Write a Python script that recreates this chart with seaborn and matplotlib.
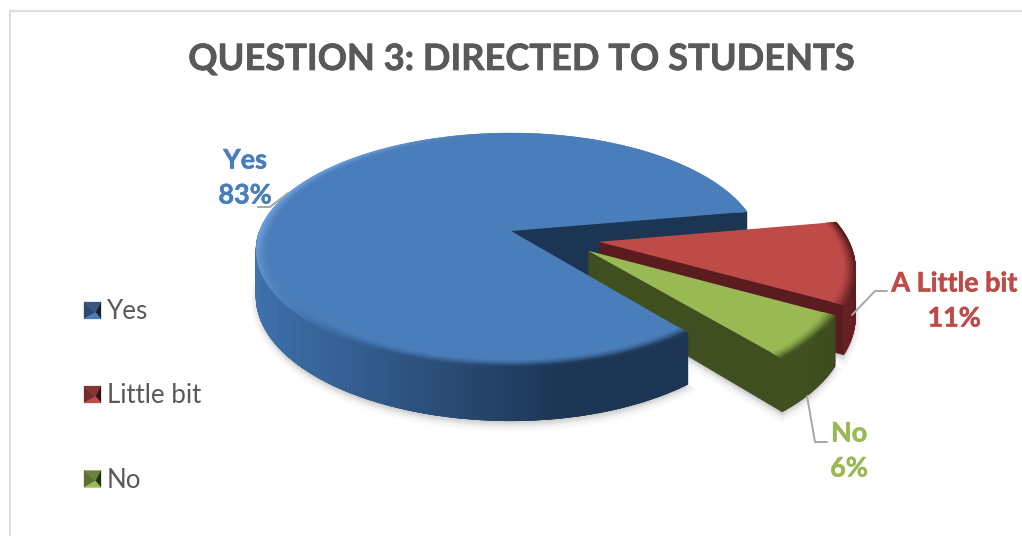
import numpy as np
import matplotlib
matplotlib.use('Agg')
import matplotlib.pyplot as plt
import matplotlib.colors as mcolors
import matplotlib.patheffects as pe
import matplotlib.transforms as mtransforms
from matplotlib.collections import PolyCollection
from matplotlib.patches import PathPatch, Polygon, Wedge
import seaborn as sns

# Chart values
categories = ['Yes', 'Little bit', 'No']
values = [83, 11, 6]
label_names = ['Yes', 'A Little bit', 'No']
title = 'QUESTION 3: DIRECTED TO STUDENTS'

sns.set_theme(style='white')
plt.rcParams['font.family'] = ['Lato', 'DejaVu Sans']

palette = sns.color_palette(['#4a7ebb', '#be4b48', '#98b954'])
inner_wall = ['#1c3553', '#5a1c1e', '#3f4f20']
wall_light = ['#3f72ae', '#6a2224', '#41521f']
wall_dark = ['#1d3655', '#4e1a1b', '#3d4b1e']
text_grey = '#595959'
line_grey = '#a6a6a6'

# Camera used for the tilted pie, in reference pixels
CX, CY = 511, 231
RX, RY = 251.5, 113.9
RIGHT_SQUEEZE = 0.98
K = 0.1625
DEPTH = 45
# how far the two small slices are pulled out of the pie
pulled = {1: (0.351, -0.0937), 2: (0.304, -0.168)}


class Tilt(mtransforms.Transform):
    input_dims = 2
    output_dims = 2

    def __init__(self, drop=0):
        super().__init__()
        self.drop = drop

    def transform_non_affine(self, xy):
        xy = np.asarray(xy, dtype=float)
        w = 1 + K * xy[:, 1]
        rx = np.where(xy[:, 0] > 0, RX * RIGHT_SQUEEZE, RX)
        return np.column_stack([CX + rx * xy[:, 0] / w,
                                CY - RY * xy[:, 1] / w + self.drop / w])


def mix(a, b, t):
    a, b = np.array(mcolors.to_rgb(a)), np.array(mcolors.to_rgb(b))
    return tuple(a + (b - a) * t)


def rim_point(wedge, theta, r=1.0, drop=0):
    cx, cy = wedge.center
    rad = np.radians(theta)
    pts = np.column_stack([cx + r * np.cos(rad), cy + r * np.sin(rad)])
    return Tilt(drop).transform_non_affine(pts)


def wall_colour(i, x, frac):
    t = np.clip((x - 256) / 300, 0, 1) if i == 0 else frac
    return mix(wall_light[i], wall_dark[i], t)


def draw_stack(wedge, i, zorder):
    # extruded copies give the cut faces of the slice
    for d in np.arange(DEPTH, 0, -1.0):
        ax.add_patch(PathPatch(wedge.get_path(), facecolor=inner_wall[i], edgecolor=inner_wall[i],
                               lw=0.5, transform=Tilt(d) + ax.transData, zorder=zorder))


def draw_outer_wall(wedge, i, zorder, start=None):
    t1 = wedge.theta1 if start is None else start
    thetas = np.linspace(t1, wedge.theta2, 220 if i == 0 else 40)
    top = rim_point(wedge, thetas)
    low = rim_point(wedge, thetas, drop=DEPTH)
    polys, cols = [], []
    for j in range(len(thetas) - 1):
        polys.append([top[j], top[j + 1], low[j + 1], low[j]])
        cols.append(wall_colour(i, top[j][0], j / len(thetas)))
    ax.add_collection(PolyCollection(polys, facecolors=cols, edgecolors=cols, lw=0.5, zorder=zorder))


def draw_bevel(wedge, i, zorder):
    # soft rounded edge along the rim of the top face
    thetas = np.linspace(wedge.theta1, wedge.theta2, 260 if i == 0 else 50)
    rings = np.linspace(0.955, 1.0, 7)
    polys, cols = [], []
    for n in range(len(rings) - 1):
        inner = rim_point(wedge, thetas, rings[n])
        outer = rim_point(wedge, thetas, rings[n + 1])
        f = ((n + 1) / (len(rings) - 1)) ** 1.5
        for j in range(len(thetas) - 1):
            th = np.radians(thetas[j])
            front = np.clip(-np.sin(th) * 1.6, 0, 1)
            target = wall_colour(i, inner[j][0], j / len(thetas))
            if i == 0:
                col = mix(palette[i], target, front * f)
                left = np.clip(-np.cos(th) * 1.4 - 0.15, 0, 1) * np.clip(1 + np.sin(th) * 1.1, 0, 1)
                col = mix(col, '#6d9fdb', left * f)
                if np.cos(th) > 0 and np.sin(th) > 0:
                    col = palette[i]
            else:
                col = mix(palette[i], target, max(front, np.clip(np.cos(th), 0, 1)) * f)
            polys.append([inner[j], inner[j + 1], outer[j + 1], outer[j]])
            cols.append(col)
    ax.add_collection(PolyCollection(polys, facecolors=cols, edgecolors=cols, lw=0.3, zorder=zorder))


fig = plt.figure(figsize=(10.22, 5.36), dpi=100, facecolor='white')
ax = fig.add_axes([0, 0, 1, 1])

wedges, _ = ax.pie(values, colors=palette, startangle=308.8, counterclock=False,
                   wedgeprops={'linewidth': 0})
ax.set_aspect('auto')
ax.set_xlim(0, 1022)
ax.set_ylim(536, 0)
ax.axis('off')

for i, wedge in enumerate(wedges):
    if i in pulled:
        wedge.set_center(pulled[i])
    wedge.set_transform(Tilt() + ax.transData)

# soft shadow under the pie
for grow in [10, 8, 6, 4, 2]:
    for wedge in wedges:
        ax.add_patch(PathPatch(wedge.get_path(), facecolor='black', edgecolor='black', lw=grow * 0.7,
                               alpha=0.018, transform=Tilt(DEPTH + grow * 0.5) + ax.transData, zorder=1))

# blue cut faces go behind the pulled slices, its front wall and top go over them
draw_stack(wedges[0], 0, 2)
# closes the small gap at the bottom of the notch
notch = Wedge((0, 0), 1, wedges[0].theta1, wedges[0].theta1 + 30)
ax.add_patch(PathPatch(notch.get_path(), facecolor=inner_wall[0], edgecolor=inner_wall[0], lw=0.5,
                       transform=Tilt(DEPTH + 12) + ax.transData, zorder=2))
for i in [1, 2]:
    z = 5 + i * 3
    draw_stack(wedges[i], i, z)
    draw_outer_wall(wedges[i], i, z + 0.5)
    wedges[i].set_zorder(z + 1)
    draw_bevel(wedges[i], i, z + 1.5)
draw_outer_wall(wedges[0], 0, 20, start=180)
wedges[0].set_zorder(21)
draw_bevel(wedges[0], 0, 22)

# chart border, only top and left show in the crop
ax.plot([10, 10, 1022], [536, 10.5, 10.5], color='#dedede', lw=1.6, zorder=30)

heavy = [pe.withStroke(linewidth=0.5, foreground=text_grey)]
ax.text(520.5, 59.5, title, ha='center', va='center', fontsize=26.1, fontweight='bold', color=text_grey,
        zorder=30, path_effects=heavy)

# data labels with leader lines
label_pos = [(245, 160, 195), (954, 283, 318), (849, 433, 468)]
leaders = [([258, 270, 288], [207, 207, 193]),
           ([887, 875, 852], [291, 291, 315]),
           ([827, 815, 807], [442, 442, 396])]
for i, name in enumerate(label_names):
    x, y1, y2 = label_pos[i]
    bold = [pe.withStroke(linewidth=0.4, foreground=palette[i])]
    ax.text(x, y1 + 0.5, name, ha='center', va='center', fontsize=19.4, fontweight='bold', color=palette[i],
            zorder=30, path_effects=bold)
    ax.text(x, y2 + 0.5, f'{values[i]}%', ha='center', va='center', fontsize=19.4, fontweight='bold', color=palette[i],
            zorder=30, path_effects=bold)
    ax.plot(leaders[i][0], leaders[i][1], color=line_grey, lw=1.4, zorder=25)

# legend keys with the bevelled look
legend_y = [310.5, 394.5, 479]
for i, name in enumerate(categories):
    y = legend_y[i]
    x0, x1, h = 84, 101, 8.5
    apex = (x0 + 11.5, y + 2)
    faces = [([(x0, y - h), (x1, y - h), apex], mix(palette[i], 'black', 0.3)),
             ([(x0, y - h), (x0, y + h), apex], mix(palette[i], 'black', 0.4)),
             ([(x1, y - h), (x1, y + h), apex], mix(palette[i], 'black', 0.75)),
             ([(x0, y + h), (x1, y + h), apex], palette[i])]
    for pts, col in faces:
        ax.add_patch(Polygon(pts, facecolor=col, edgecolor=col, lw=0.2, zorder=30))
    ax.text(107, y + 1, name, ha='left', va='center', fontsize=18.6, color=text_grey, zorder=30)

fig.savefig('out.png', dpi=100)
